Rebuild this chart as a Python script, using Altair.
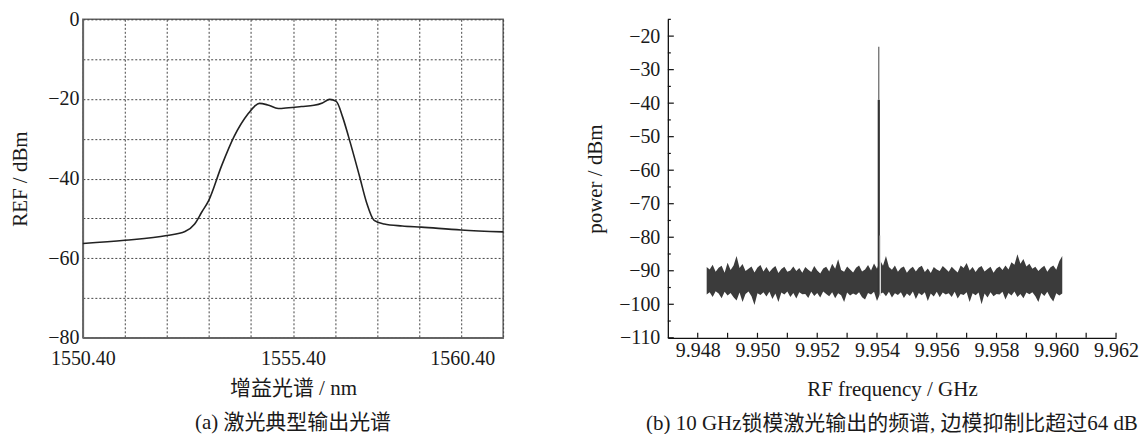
import json
import altair as alt
import pandas as pd

FONT = "Liberation Serif, Noto Sans CJK SC"
INK = "#1a1a1a"

# ---------------- (a) optical spectrum ----------------
wl = [1550.40, 1551.40, 1552.40, 1552.83, 1553.06, 1553.23, 1553.39, 1553.70, 1554.00,
      1554.34, 1554.48, 1554.60, 1554.80, 1555.05, 1555.30, 1555.60, 1555.90, 1556.10,
      1556.27, 1556.43, 1556.58, 1556.72, 1556.98, 1557.15, 1557.33, 1557.57, 1558.00,
      1558.45, 1559.40, 1560.40]
ref = [-56.3, -55.5, -54.3, -53.3, -51.4, -48.4, -45.6, -36.8, -29.4,
       -23.6, -21.9, -21.1, -21.5, -22.4, -22.2, -21.9, -21.6, -21.0,
       -20.1, -20.6, -24.5, -29.4, -39.3, -46.0, -50.5, -51.4, -51.9,
       -52.2, -52.9, -53.4]
left_x_ticks = [1550.4, 1551.4, 1552.4, 1553.4, 1554.4, 1555.4, 1556.4, 1557.4,
                1558.4, 1559.4, 1560.4]
left_x_labels = ["1550.40", "1555.40", "1560.40"]
left_y_ticks = [0, -10, -20, -30, -40, -50, -60, -70, -80]
left_y_labels = [0, -20, -40, -60, -80]

# ---------------- (b) RF spectrum ----------------
noise_freq = [
    9.9483, 9.9484, 9.9485, 9.9486, 9.9487, 9.9488, 9.9489, 9.9490, 9.9491, 9.9492,
    9.9493, 9.9494, 9.9495, 9.9496, 9.9497, 9.9498, 9.9499, 9.9500, 9.9501, 9.9502,
    9.9503, 9.9504, 9.9505, 9.9506, 9.9507, 9.9508, 9.9509, 9.9510, 9.9511, 9.9512,
    9.9513, 9.9514, 9.9515, 9.9516, 9.9517, 9.9518, 9.9519, 9.9520, 9.9521, 9.9522,
    9.9523, 9.9524, 9.9525, 9.9526, 9.9527, 9.9528, 9.9529, 9.9530, 9.9531, 9.9532,
    9.9533, 9.9534, 9.9535, 9.9536, 9.9537, 9.9538, 9.9539, 9.9540, 9.9541, 9.9542,
    9.9543, 9.9544, 9.9545, 9.9546, 9.9547, 9.9548, 9.9549, 9.9550, 9.9551, 9.9552,
    9.9553, 9.9554, 9.9555, 9.9556, 9.9557, 9.9558, 9.9559, 9.9560, 9.9561, 9.9562,
    9.9563, 9.9564, 9.9565, 9.9566, 9.9567, 9.9568, 9.9569, 9.9570, 9.9571, 9.9572,
    9.9573, 9.9574, 9.9575, 9.9576, 9.9577, 9.9578, 9.9579, 9.9580, 9.9581, 9.9582,
    9.9583, 9.9584, 9.9585, 9.9586, 9.9587, 9.9588, 9.9589, 9.9590, 9.9591, 9.9592,
    9.9593, 9.9594, 9.9595, 9.9596, 9.9597, 9.9598, 9.9599, 9.9600, 9.9601, 9.9602,
]
noise_upper = [
    -88.9, -89.6, -88.2, -90.3, -89.1, -88.5, -90.6, -87.6, -89.8, -88.4,
    -85.6, -89.2, -88.0, -90.1, -89.4, -88.7, -90.5, -89.0, -88.3, -90.2,
    -88.9, -90.4, -89.3, -88.6, -90.7, -89.5, -88.8, -90.3, -89.9, -88.7,
    -90.1, -89.2, -90.6, -88.9, -89.7, -90.4, -88.6, -89.9, -90.8, -89.3,
    -88.8, -90.2, -87.9, -89.4, -86.6, -89.8, -90.3, -88.7, -89.6, -90.5,
    -89.1, -88.4, -90.2, -89.6, -88.3, -89.9, -87.8, -89.4, -86.8, -88.5,
    -85.6, -88.9, -89.7, -88.4, -90.3, -89.2, -88.7, -90.6, -89.5, -88.8,
    -90.2, -89.0, -88.5, -90.4, -89.3, -90.7, -88.9, -89.6, -90.1, -88.6,
    -89.4, -90.3, -88.8, -89.7, -90.5, -88.4, -89.2, -87.7, -89.9, -88.9,
    -90.4, -89.1, -88.6, -90.2, -89.5, -88.8, -90.6, -89.3, -88.7, -89.8,
    -88.4, -89.6, -87.5, -88.2, -85.1, -87.9, -86.5, -88.7, -87.9, -89.4,
    -88.8, -90.1, -89.2, -88.5, -90.3, -89.0, -88.4, -89.7, -87.2, -85.6,
]
noise_lower = [
    -97.1, -96.4, -97.8, -96.1, -96.8, -98.2, -96.3, -97.4, -96.6, -97.9,
    -98.9, -96.5, -99.3, -96.9, -96.2, -97.6, -100.2, -96.7, -97.2, -96.4,
    -97.7, -96.3, -98.4, -96.8, -99.3, -96.5, -97.1, -96.2, -97.8, -96.6,
    -98.3, -96.4, -97.0, -96.9, -98.1, -96.3, -97.5, -96.6, -98.0, -96.2,
    -96.9, -97.6, -96.4, -98.2, -96.7, -97.3, -99.3, -96.5, -97.4, -96.8,
    -97.2, -96.4, -97.9, -98.6, -96.6, -97.1, -96.3, -99.0, -96.9, -96.5,
    -97.6, -96.3, -98.0, -96.7, -97.2, -96.4, -98.1, -96.8, -97.5, -96.2,
    -98.4, -96.6, -97.3, -96.4, -99.0, -96.8, -97.7, -96.3, -97.9, -96.5,
    -97.1, -96.7, -97.8, -96.3, -98.3, -96.9, -97.2, -96.4, -99.3, -96.7,
    -97.3, -96.5, -100.0, -96.8, -98.0, -96.4, -97.6, -96.9, -97.1, -96.3,
    -98.6, -96.6, -97.4, -96.2, -97.8, -96.9, -98.2, -96.5, -97.0, -96.4,
    -97.6, -99.3, -96.6, -97.5, -96.3, -98.0, -99.2, -96.7, -97.4, -96.8,
]
peak_freq = 9.95406
peak_top = -23.2       # thin tip of the carrier
peak_body_top = -39.0  # thicker part of the carrier
peak_gap_top = -79.5   # light strip beside the carrier
peak_base = -96.5
right_x_labels = [9.948, 9.950, 9.952, 9.954, 9.956, 9.958, 9.960, 9.962]
right_x_ticks = [9.948, 9.949, 9.950, 9.951, 9.952, 9.953, 9.954, 9.955, 9.956,
                 9.957, 9.958, 9.959, 9.960, 9.961, 9.962]
right_y_major = [-110, -100, -90, -80, -70, -60, -50, -40, -30, -20]
right_y_minor = [-105, -95, -85, -75, -65, -55, -45, -35, -25, -15]

PW_L, PW_R, PH = 421, 449, 319

# ---------------- left chart ----------------
left_df = pd.DataFrame({"wl": wl, "ref": ref})
x_label_expr = ("indexof(" + json.dumps(left_x_labels) + ", format(datum.value, '.2f')) >= 0"
                " ? format(datum.value, '.2f') : ''")
y_label_expr = ("indexof(" + json.dumps(left_y_labels) + ", datum.value) >= 0"
                " ? format(datum.value, 'd') : ''")

left = alt.Chart(left_df).mark_line(
    color="#222", strokeWidth=1.6, interpolate="monotone"
).encode(
    x=alt.X("wl:Q",
            scale=alt.Scale(domain=[1550.4, 1560.4], nice=False, zero=False),
            axis=alt.Axis(values=left_x_ticks, title="增益光谱 / nm", grid=True,
                          gridDash=[2, 2], gridColor="#444", gridWidth=1, ticks=False,
                          labelExpr=x_label_expr, labelOverlap=False, labelFlush=False,
                          labelPadding=11, titlePadding=9, domainColor="#666",
                          domainWidth=1.5,
                          labelOffset={"condition": {"test": "datum.value > 1560", "value": -41},
                                       "value": 0})),
    y=alt.Y("ref:Q",
            scale=alt.Scale(domain=[-80, 0], nice=False),
            axis=alt.Axis(values=left_y_ticks, title="REF / dBm", grid=True,
                          gridDash=[2, 2], gridColor="#444", gridWidth=1, ticks=False,
                          labelExpr=y_label_expr, labelOverlap=False, labelFlush=False,
                          labelPadding=4, titlePadding=17, domainColor="#666",
                          domainWidth=1.5)),
).properties(
    width=PW_L, height=PH,
    view=alt.ViewBackground(stroke="#666", strokeWidth=1.5),
    title=alt.TitleParams("(a) 激光典型输出光谱", orient="bottom", frame="group",
                          anchor="middle", offset=13),
)

# ---------------- right chart ----------------
noise_df = pd.DataFrame({"f": noise_freq, "p": noise_upper, "p2": noise_lower})
xs = alt.Scale(domain=[9.947, 9.962], nice=False, zero=False)
ys = alt.Scale(domain=[-110, -15], nice=False)

xaxis = alt.Axis(values=right_x_labels, format=".3f", title="RF frequency / GHz", grid=False,
                 ticks=False, labelPadding=3, titlePadding=18, domainColor="#111",
                 domainWidth=1.3, labelOverlap=False, labelFlush=False)
yaxis = alt.Axis(values=right_y_major, format="d", title="power / dBm", grid=False,
                 ticks=False, labelPadding=8, titlePadding=13, domainColor="#111",
                 domainWidth=1.3, labelOverlap=False, labelFlush=False)

X = alt.X("f:Q", scale=xs, axis=xaxis)
Y = alt.Y("p:Q", scale=ys, axis=yaxis)

noise = alt.Chart(noise_df).mark_area(color="#3b3b3b", opacity=1).encode(
    x=X, y=Y, y2="p2:Q",
)

body_df = pd.DataFrame({"f": [peak_freq], "p": [peak_base], "p2": [peak_body_top]})
tip_df = pd.DataFrame({"f": [peak_freq], "p": [peak_body_top], "p2": [peak_top]})
gap_df = pd.DataFrame({"f": [peak_freq + 0.00005], "p": [peak_base - 1.0], "p2": [peak_gap_top]})

body = alt.Chart(body_df).mark_rule(color="#333", strokeWidth=2.2).encode(x=X, y=Y, y2="p2:Q")
tip = alt.Chart(tip_df).mark_rule(color="#555", strokeWidth=1.1).encode(x=X, y=Y, y2="p2:Q")
gap = alt.Chart(gap_df).mark_rule(color="#e6e6e6", strokeWidth=1.3).encode(x=X, y=Y, y2="p2:Q")

xt_df = pd.DataFrame({"f": right_x_ticks})
xticks = alt.Chart(xt_df).mark_rule(color="#111", strokeWidth=1.2).encode(
    x=X, y=alt.value(PH), y2=alt.value(PH - 5))
ymaj_df = pd.DataFrame({"p": right_y_major})
ymin_df = pd.DataFrame({"p": right_y_minor})
ymaj = alt.Chart(ymaj_df).mark_rule(color="#111", strokeWidth=1.2).encode(
    y=Y, x=alt.value(0), x2=alt.value(6))
ymin = alt.Chart(ymin_df).mark_rule(color="#111", strokeWidth=1.2).encode(
    y=Y, x=alt.value(0), x2=alt.value(3))

right = alt.layer(noise, body, tip, gap, xticks, ymaj, ymin).properties(
    width=PW_R, height=PH,
    title=alt.TitleParams("(b) 10 GHz锁模激光输出的频谱, 边模抑制比超过64 dB", orient="bottom",
                          frame="group", anchor="middle", offset=13),
)

chart = alt.hconcat(left, right, spacing=165, bounds="flush").properties(
    padding={"left": 0, "top": 0, "right": 0, "bottom": 0},
    background="white",
).configure_view(
    stroke=None
).configure_axis(
    labelFont=FONT, titleFont=FONT, labelFontSize=20, titleFontSize=21,
    labelColor=INK, titleColor=INK, titleFontWeight="normal",
).configure_title(
    font=FONT, fontSize=21, fontWeight="normal", color=INK,
)

chart.save("out.html", embed_options={"renderer": "svg", "actions": False})
